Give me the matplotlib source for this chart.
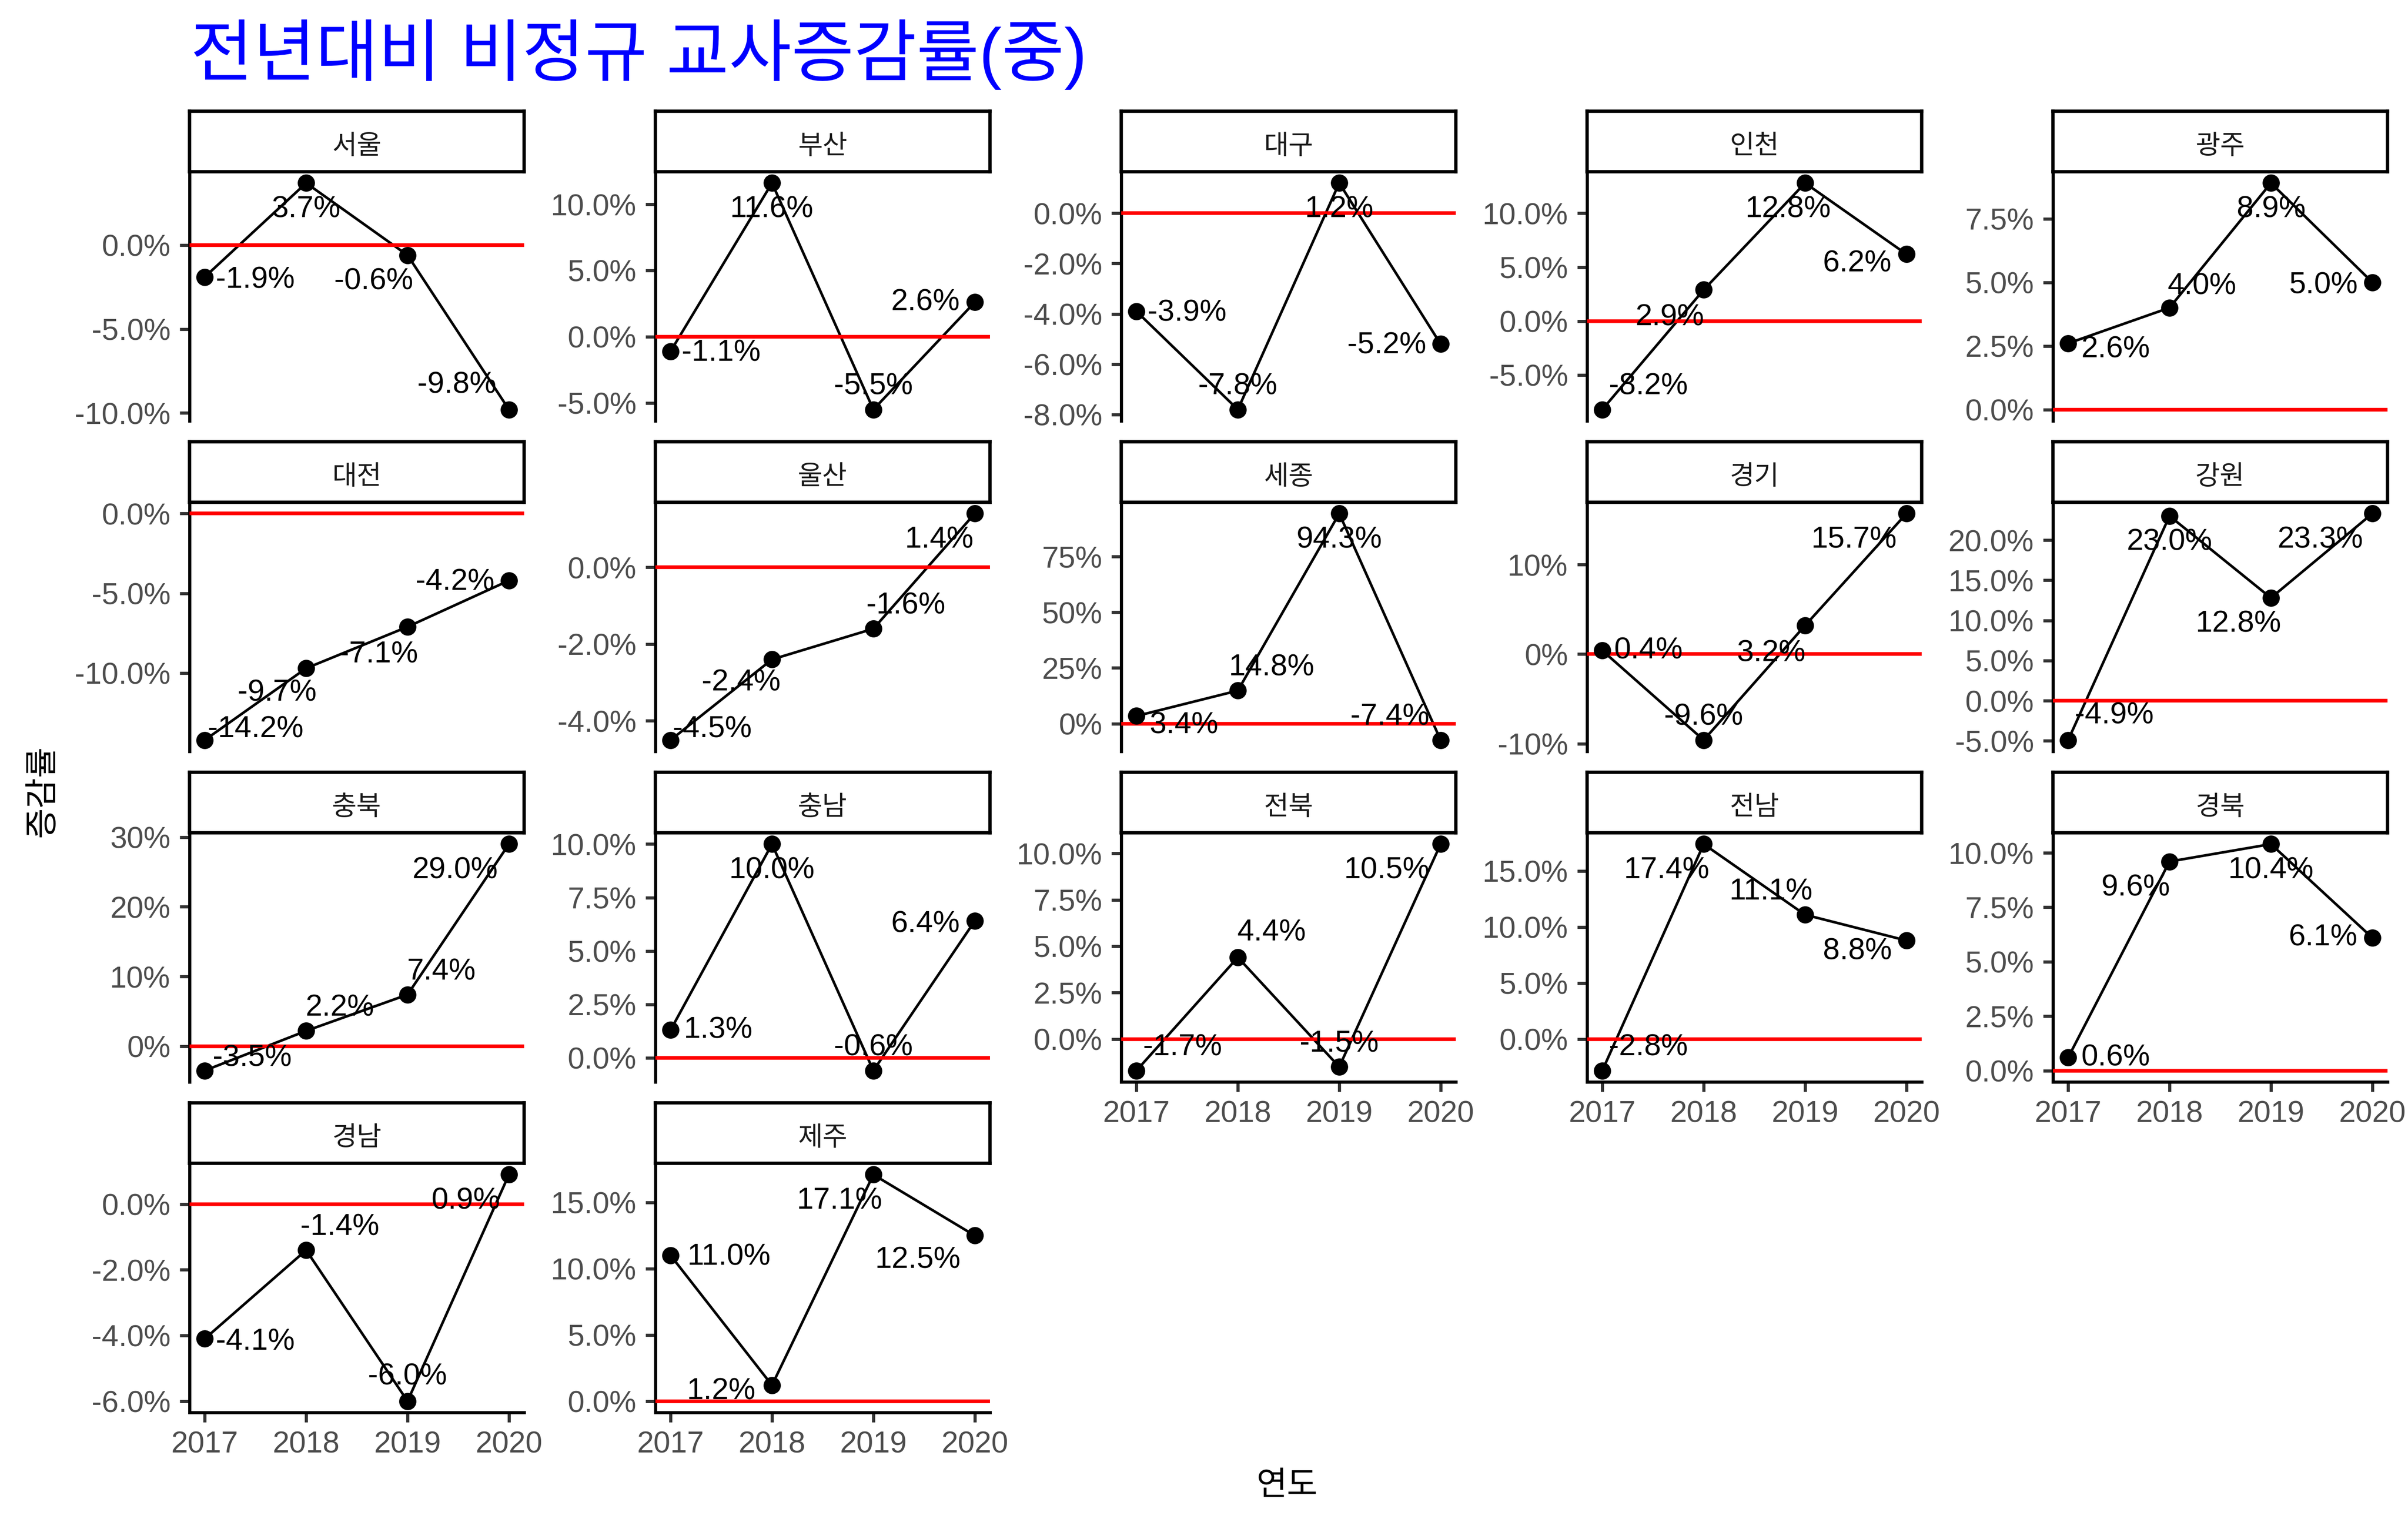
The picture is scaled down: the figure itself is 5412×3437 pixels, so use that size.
import numpy as np
import matplotlib
matplotlib.use("Agg")
import matplotlib.pyplot as plt

plt.rcParams['font.family'] = ['Liberation Sans', 'Noto Sans CJK KR', 'DejaVu Sans']

# ---- data (증감률, %) ----
years = [2017, 2018, 2019, 2020]
regions = ['서울', '부산', '대구', '인천', '광주',
           '대전', '울산', '세종', '경기', '강원',
           '충북', '충남', '전북', '전남', '경북',
           '경남', '제주']
rates = [
    [-1.9, 3.7, -0.6, -9.8],     # 서울
    [-1.1, 11.6, -5.5, 2.6],     # 부산
    [-3.9, -7.8, 1.2, -5.2],     # 대구
    [-8.2, 2.9, 12.8, 6.2],      # 인천
    [2.6, 4.0, 8.9, 5.0],        # 광주
    [-14.2, -9.7, -7.1, -4.2],   # 대전
    [-4.5, -2.4, -1.6, 1.4],     # 울산
    [3.4, 14.8, 94.3, -7.4],     # 세종
    [0.4, -9.6, 3.2, 15.7],      # 경기
    [-4.9, 23.0, 12.8, 23.3],    # 강원
    [-3.5, 2.2, 7.4, 29.0],      # 충북
    [1.3, 10.0, -0.6, 6.4],      # 충남
    [-1.7, 4.4, -1.5, 10.5],     # 전북
    [-2.8, 17.4, 11.1, 8.8],     # 전남
    [0.6, 9.6, 10.4, 6.1],       # 경북
    [-4.1, -1.4, -6.0, 0.9],     # 경남
    [11.0, 1.2, 17.1, 12.5],     # 제주
]
# y axis breaks per panel and decimals of the % labels
y_breaks = [
    [-10, -5, 0], [-5, 0, 5, 10], [-8, -6, -4, -2, 0], [-5, 0, 5, 10], [0, 2.5, 5, 7.5],
    [-10, -5, 0], [-4, -2, 0], [0, 25, 50, 75], [-10, 0, 10], [-5, 0, 5, 10, 15, 20],
    [0, 10, 20, 30], [0, 2.5, 5, 7.5, 10], [0, 2.5, 5, 7.5, 10], [0, 5, 10, 15], [0, 2.5, 5, 7.5, 10],
    [-6, -4, -2, 0], [0, 5, 10, 15],
]
y_decimals = [1, 1, 1, 1, 1,
              1, 1, 0, 0, 1,
              0, 1, 1, 1, 1,
              1, 1]

# label nudges (repel-like placement), in preview pixels (dx right, dy down)
nudges = [
    [(33, 2), (0, 17), (-22, 17), (-34, -16)],
    [(33, 1), (0, 17), (0, -15), (-32, 0)],
    [(33, 1), (0, -15), (0, 17), (-35, 1)],
    [(30, -15), (-22, 18), (-11, 17), (-32, 6)],
    [(31, 4), (21, -14), (0, 17), (-32, 2)],
    [(33, -7), (-19, 16), (-19, 18), (-35, 1)],
    [(27, -7), (-20, 15), (21, -15), (-23, 17)],
    [(31, 6), (22, -15), (0, 17), (-33, -15)],
    [(30, 0), (0, -15), (-22, 18), (-34, 17)],
    [(30, -16), (0, 17), (-21, 17), (-34, 17)],
    [(31, -8), (22, -15), (22, -15), (-35, 17)],
    [(31, 0), (0, 17), (0, -15), (-32, 2)],
    [(30, -15), (22, -16), (0, -15), (-35, 17)],
    [(30, -15), (-24, 17), (-22, -15), (-32, 7)],
    [(31, 0), (-22, 17), (0, 17), (-32, 0)],
    [(33, 2), (22, -15), (0, -16), (-28, 17)],
    [(38, 1), (-33, 4), (-22, 17), (-37, 16)],
]
PX = 5412 / 1568 * 72 / 300   # preview px -> points

W, H = 5412, 3437
fig = plt.figure(figsize=(W / 300, H / 300), dpi=300)

col_left = [426 + 1047 * c for c in range(5)]
panel_w = 752
strip_top = [250 + 743 * r for r in range(4)]
strip_h = 136
panel_h = 560

LW = 1.7
for i, name in enumerate(regions):
    r, c = divmod(i, 5)
    x0 = col_left[c]
    st = strip_top[r]
    pt = st + strip_h
    ax = fig.add_axes([x0 / W, 1 - (pt + panel_h) / H, panel_w / W, panel_h / H])
    sax = fig.add_axes([x0 / W, 1 - pt / H, panel_w / W, strip_h / H])
    sax.set_xticks([])
    sax.set_yticks([])
    for sp in sax.spines.values():
        sp.set_linewidth(1.8)
        sp.set_color('black')
    sax.text(0.5, 0.41, name, ha='center', va='center', fontsize=14.5,
             color='#1A1A1A', transform=sax.transAxes)

    vals = rates[i]
    ax.axhline(0, color='red', lw=2.0, zorder=3)
    ax.plot(years, vals, color='black', lw=1.4, zorder=2)
    ax.plot(years, vals, 'o', color='black', ms=8.3, zorder=4)
    for yr, v, (dx, dy) in zip(years, vals, nudges[i]):
        ax.annotate(f'{v:.1f}%', (yr, v), xytext=(dx * PX, -dy * PX),
                    textcoords='offset points', ha='center', va='center',
                    fontsize=16.3, color='black', zorder=5)

    lo, hi = min(min(vals), 0), max(max(vals), 0)
    pad = (hi - lo) * 0.05
    ax.set_ylim(lo - pad, hi + pad)
    ax.set_xlim(2017 - 0.15, 2020 + 0.15)

    ax.set_yticks(y_breaks[i])
    d = y_decimals[i]
    ax.set_yticklabels([f'{b:.{d}f}%' for b in y_breaks[i]])
    ax.tick_params(axis='y', length=5.3, width=LW, color='#333333',
                   labelcolor='#4D4D4D', labelsize=16.3, pad=5)
    for s in ['top', 'right']:
        ax.spines[s].set_visible(False)
    ax.spines['left'].set_linewidth(LW)

    if i + 5 >= len(regions):
        ax.set_xticks(years)
        ax.tick_params(axis='x', length=5.3, width=LW, color='#333333',
                       labelcolor='#4D4D4D', labelsize=16.3, pad=4.5)
        ax.spines['bottom'].set_linewidth(LW)
    else:
        ax.set_xticks([])
        ax.spines['bottom'].set_visible(False)
    ax.patch.set_alpha(0)

fig.text(428 / W, 1 - 170 / H, '전년대비 비정규 교사증감률(중)', color='#0000FF',
         fontsize=36.7, ha='left', va='baseline')
fig.text(97 / W, 1 - 1778 / H, '증감률', rotation=90, ha='center', va='center',
         fontsize=18, color='black')
fig.text(2892 / W, 1 - 3341 / H, '연도', ha='center', va='center',
         fontsize=18, color='black')

fig.savefig('out.png', dpi=300, facecolor='white')
